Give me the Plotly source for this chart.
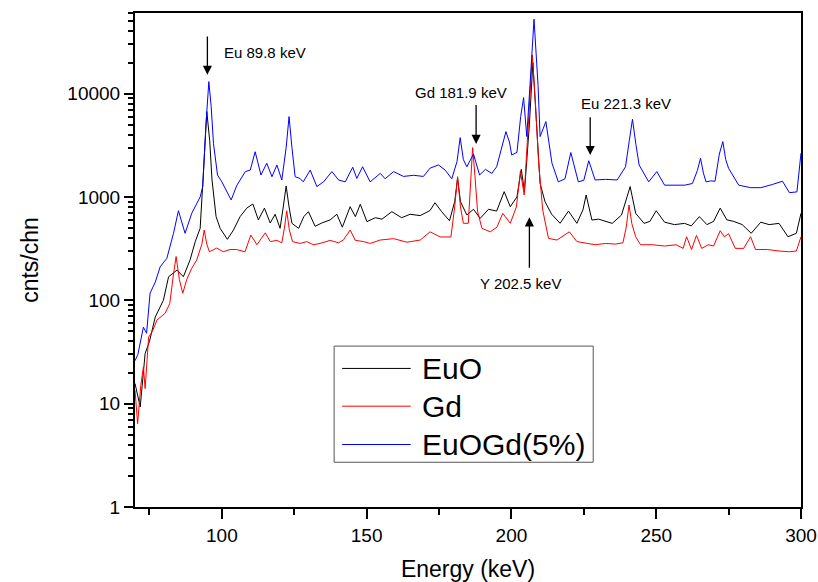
import math
import plotly.graph_objects as go

# ---- spectra: energy (keV) and counts per channel ----
euo_e = [70, 71, 71.8, 73.5, 75, 77, 79.8, 81.6, 82.7, 84.5, 86.7, 89, 90.8, 92.5, 93.5, 94.8,
         95.8, 96.6, 98, 99.4, 101.9, 104, 106.3, 108.6, 110.7, 112.6, 114.7, 116.7, 118.4,
         120.1, 121.2, 122.2, 123.2, 124.2, 126.5, 128.3, 129.9, 132.2, 134.5, 137.4, 139.7,
         141.6, 144.3, 146.1, 147.8, 150.1, 153, 155.3, 158.7, 162.1, 165, 168.5, 171.9, 173.6,
         175.9, 178.6, 180.4, 181.4, 182.4, 184.6, 186.9, 189.2, 192.1, 194.9, 197.5, 199.6,
         201.9, 203.4, 204.5, 206.2, 207.4, 208.6, 209.9, 211.6, 213.9, 216.8, 219.7, 222.6,
         224.7, 225.8, 227.8, 230.1, 232.5, 234.8, 238, 241, 242.9, 245.8, 247.8, 250, 252.9,
         256.3, 259.8, 262.1, 264.9, 267.5, 269.8, 272.1, 274.4, 276.8, 279.7, 282.8, 286.1,
         289, 292.4, 295.5, 298.4, 300]
euo_c = [15.7, 12, 9.3, 30.6, 40, 69, 100, 169, 180, 196, 169, 245, 369, 497, 1500, 6700,
         3500, 1460, 645, 497, 389, 478, 645, 780, 855, 600, 780, 560, 680,
         497, 800, 1277, 800, 556, 497, 645, 720, 520, 560, 600, 680,
         510, 805, 645, 850, 577, 630, 610, 720, 630, 680, 660, 740, 880,
         720, 589, 900, 1515, 900, 670, 760, 620, 760, 730, 1125, 805,
         1000, 1850, 1125, 5000, 20000, 5000, 1350, 900, 680, 556, 730, 556,
         750, 1045, 598, 610, 580, 555, 668, 1260, 695, 555, 580, 735, 570,
         540, 555, 525, 645, 540, 580, 780, 600, 580, 540, 445, 570,
         540, 555, 412, 445, 695]

gd_e = [70, 70.9, 72, 72.9, 73.5, 74.7, 76, 77.6, 80.4, 82, 83.3, 84.2, 85.3, 86.5, 87.9,
        89.6, 91.3, 93.1, 93.9, 94.8, 95.7, 98.2, 100.5, 102.8, 105.1, 108, 110, 112.1, 115,
        116.7, 119, 120.7, 121.6, 122.4, 123.3, 124.4, 127, 129.3, 131.6, 133.9, 137.4, 140.3,
        142, 144.3, 146.1, 149, 151.2, 154.7, 159.3, 163.9, 168.5, 171.9, 175.4, 179.1, 180.4,
        181.4, 182.4, 183.4, 185.1, 185.9, 186.6, 187.4, 188.3, 189.8, 192.7, 195, 197, 199.6,
        201.7, 203.1, 204.4, 206, 207.2, 208.3, 209.4, 210.8, 212.8, 215.7, 220, 222.6, 226,
        228.9, 232.5, 235.9, 238.5, 239.6, 240.6, 241.6, 242.9, 244.6, 248.7, 252.9, 256.9,
        259.3, 260.5, 262.2, 263.9, 265.7, 268, 269.8, 272.1, 273.5, 275, 277.3, 280.2, 282.6,
        284.3, 288.4, 292.4, 296, 298.4, 300]
gd_c = [13.5, 6.4, 15, 22.7, 14, 44, 50, 64.5, 75, 93, 180, 265, 160, 117, 160,
        204, 245, 350, 478, 350, 295, 320, 295, 310, 310, 295, 428, 345, 450,
        370, 380, 360, 500, 735, 480, 370, 355, 370, 345, 355, 380, 360,
        385, 478, 380, 370, 355, 383, 395, 365, 383, 460, 410, 410, 800,
        1570, 800, 556, 556, 1500, 3000, 1600, 730, 497, 460, 510, 695, 556,
        800, 1780, 1045, 6000, 23700, 8000, 2120, 748, 397, 383, 460, 370, 355,
        345, 355, 350, 360, 500, 836, 550, 412, 345, 345, 335, 345,
        318, 412, 310, 425, 318, 345, 335, 471, 412, 440, 318, 318, 412,
        310, 310, 300, 295, 300, 412]

euogd_e = [70, 71, 72.9, 74, 75.2, 77, 78.7, 81, 83.3, 85, 87.3, 89.6, 92.5, 93.4, 94.5, 95.5,
           96.3, 97.1, 98.5, 100, 103.2, 105.2, 108.1, 109.8, 111.5, 113.5, 115.5, 117.3, 119,
           120.7, 122.2, 123.2, 124.2, 125.3, 127, 128.1, 130.5, 132.8, 135.1, 138, 140.3, 142.6,
           145.2, 146.6, 148.6, 151.2, 154.7, 156.4, 159.3, 162.7, 166.2, 169.6, 171.9, 174.8,
           177.1, 179.4, 181.2, 182.3, 183.4, 184.6, 186.9, 189, 191, 193.2, 194.9, 196.8, 198.1,
           199.3, 200.1, 201.9, 203.2, 204.2, 205.3, 206.4, 207.8, 209.2, 209.9, 211.9, 214,
           216.2, 218.5, 220.5, 223.1, 225, 226.7, 228.9, 232.5, 236.5, 239.4, 240.7, 241.8, 243,
           244.1, 247.4, 250.2, 252.9, 256.3, 259.8, 262.5, 264.2, 265.3, 266.3, 267.2, 268.8,
           270.3, 271.8, 273, 274, 275, 276, 278.5, 282.6, 286.1, 290.1, 293.6, 296, 298.6, 300]
euogd_c = [26, 30, 55, 48, 117, 150, 211, 255, 445, 736, 445, 695, 1000, 1260, 5000, 13060,
           7500, 3300, 1630, 1400, 935, 1300, 1760, 1820, 2740, 1630, 2120, 1570, 2040,
           1460, 3000, 5990, 3000, 1570, 1510, 1400, 1820, 1260, 1400, 1760, 1460, 1400,
           1940, 1510, 1960, 1400, 1690, 1500, 1760, 1580, 1620, 1580, 1900, 2040,
           1820, 1500, 2200, 3750, 2300, 1960, 2600, 1630, 1850, 1690, 1960, 3200, 4290,
           3400, 2550, 2700, 6000, 9150, 3840, 12000, 52500, 12000, 3840, 5360, 2120,
           1400, 1500, 2690, 1400, 1450, 2240, 1460, 1480, 1460, 1960, 3500, 5650, 3200,
           2040, 1400, 1760, 1300, 1300, 1300, 1350, 1800, 2370, 1700, 1400, 1430,
           1420, 2600, 3430, 2300, 1890, 1700, 1300, 1230, 1230, 1320, 1420, 1100, 1120, 2660]

series_names = ["EuO", "Gd", "EuOGd(5%)"]
series_colors = ["#000000", "#ff0000", "#0000ff"]

# peak markers: (label, arrow energy, arrow tip counts, arrow tail counts, label energy, label counts)
peak_labels = ["Eu 89.8 keV", "Gd 181.9 keV", "Eu 221.3 keV", "Y 202.5 keV"]
peak_arrow_x = [95.0, 187.8, 227.2, 206.2]
peak_arrow_tip = [15200, 3260, 2540, 635]
peak_arrow_tail = [37000, 8020, 6120, 200]
peak_text_x = [100.0, 182.6, 239.6, 203.0]
peak_text_y = [24900, 10200, 7950, 146]

y_tick_vals = [1, 10, 100, 1000, 10000]
y_tick_text = ["1", "10", "100", "1000", "10000"]
x_tick_vals = [100, 150, 200, 250, 300]

FONT = "Liberation Sans, Arial, sans-serif"

fig = go.Figure()
for e, c, name, col in zip([euo_e, gd_e, euogd_e], [euo_c, gd_c, euogd_c],
                           series_names, series_colors):
    fig.add_trace(go.Scatter(x=e, y=c, mode="lines", name=name,
                             line=dict(color=col, width=1), showlegend=False))

annotations = []
for lab, ax_e, tip, tail, tx, ty in zip(peak_labels, peak_arrow_x, peak_arrow_tip,
                                        peak_arrow_tail, peak_text_x, peak_text_y):
    annotations.append(dict(x=ax_e, y=math.log10(tip), ax=ax_e, ay=math.log10(tail),
                            xref="x", yref="y", axref="x", ayref="y", text="",
                            showarrow=True, arrowhead=2, arrowsize=1.4, arrowwidth=1.3,
                            arrowcolor="black"))
    annotations.append(dict(x=tx, y=math.log10(ty), xref="x", yref="y", text=lab,
                            showarrow=False, font=dict(family=FONT, size=15, color="black"),
                            xanchor="left" if lab.startswith("Eu 89") else "center",
                            yanchor="middle"))

# boxed key inside the plot area
key_x0, key_x1, key_y0, key_y1 = 0.299, 0.688, 0.0906, 0.3257
key_rows = [0.2805, 0.2041, 0.1265]
shapes = [dict(type="rect", xref="paper", yref="paper", x0=key_x0, x1=key_x1,
               y0=key_y0, y1=key_y1, line=dict(color="#555555", width=1),
               fillcolor="white", layer="above")]
for name, col, ry in zip(series_names, series_colors, key_rows):
    shapes.append(dict(type="line", xref="paper", yref="paper", x0=0.311, x1=0.414,
                       y0=ry, y1=ry, line=dict(color=col, width=1), layer="above"))
    annotations.append(dict(x=0.428, y=ry, xref="paper", yref="paper", text=name,
                            showarrow=False, xanchor="left", yanchor="middle",
                            font=dict(family=FONT, size=30, color="black")))

minor_y = [m * 10 ** d for d in range(0, 5) for m in range(2, 10)]

fig.update_layout(
    width=818, height=582,
    margin=dict(l=135, r=17, t=13, b=75),
    paper_bgcolor="white", plot_bgcolor="white",
    font=dict(family=FONT, color="black"),
    annotations=annotations, shapes=shapes,
    xaxis=dict(range=[70, 300], tickvals=x_tick_vals, ticks="outside", ticklen=10,
               tickwidth=1.5, tickcolor="black", showline=True, linewidth=2,
               linecolor="black", mirror=True, showgrid=False, zeroline=False,
               automargin=False,
               tickfont=dict(family=FONT, size=19),
               minor=dict(tickvals=[75, 125, 175, 225, 275], ticks="outside", ticklen=6,
                          tickwidth=1.5, tickcolor="black", showgrid=False),
               title=dict(text="Energy (keV)", font=dict(family=FONT, size=23), standoff=22)),
    yaxis=dict(type="log", range=[0, 4.78], tickvals=y_tick_vals, ticktext=y_tick_text,
               ticks="outside", ticklen=9, tickwidth=1.5, tickcolor="black",
               showline=True, linewidth=2, linecolor="black", mirror=True,
               automargin=False,
               showgrid=False, zeroline=False, tickfont=dict(family=FONT, size=19),
               minor=dict(tickvals=minor_y, ticks="outside", ticklen=5, tickwidth=1.5,
                          tickcolor="black", showgrid=False),
               title=dict(text="cnts/chn", font=dict(family=FONT, size=23), standoff=22)),
)

fig.write_html("out.html")
